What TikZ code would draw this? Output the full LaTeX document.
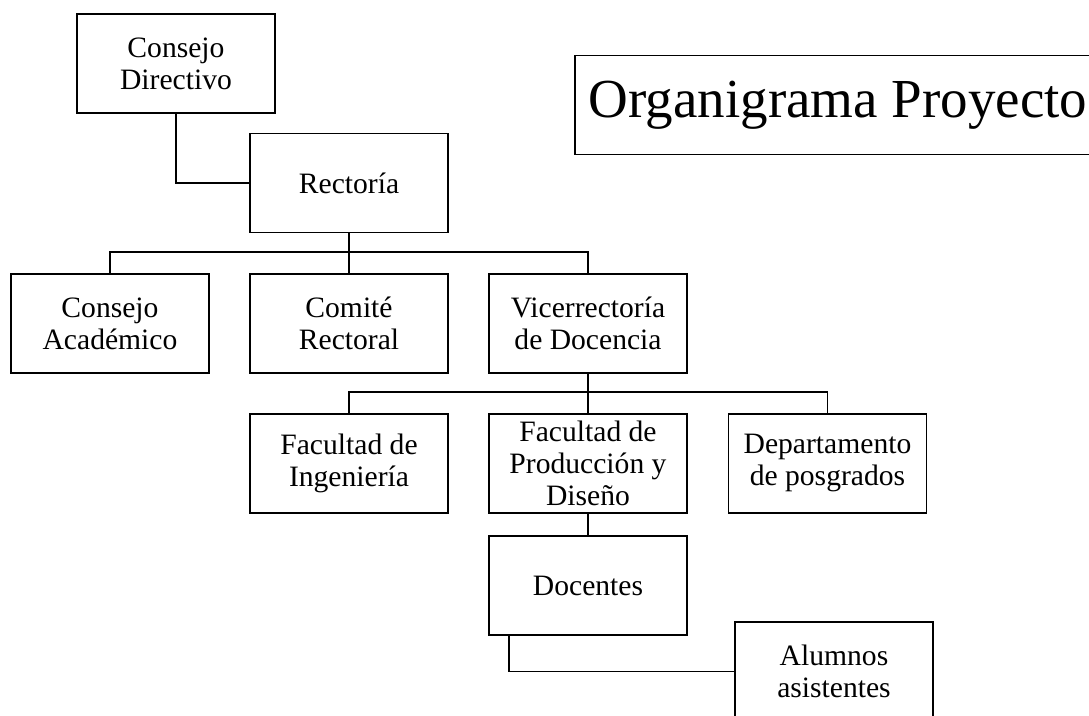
\documentclass[tikz,border=0pt]{standalone}
\usepackage{fontspec}
\setmainfont{Liberation Serif}
\begin{document}
\begin{tikzpicture}[x=1pt,y=1pt]
 \tikzset{unit/.style={draw, line width=1.6pt, minimum width=198pt, minimum height=99pt, inner ysep=1pt, align=center, font=\fontsize{29.6}{32}\selectfont}}
 \tikzset{link/.style={line width=1.6pt}}
  \useasboundingbox (0,0) rectangle (1089,715);
  \clip (0,0) rectangle (1089,715);
  \node[unit] (CD) at (176,651.5) {Consejo\\Directivo};
  \node[unit] (R) at (349,532) {Rector\'ia};
  \node[unit] (CA) at (110,391.5) {Consejo\\Acad\'emico};
  \node[unit] (CR) at (349,391.5) {Comit\'e\\Rectoral};
  \node[unit] (VD) at (588,391.5) {Vicerrector\'ia\\de Docencia};
  \node[unit] (FI) at (349,251.5) {Facultad de\\Ingenier\'ia};
  \node[unit] (FP) at (588,251.5) {Facultad de\\Producci\'on y\\Dise\~no};
  \node[unit] (DP) at (827.5,251.5) {Departamento\\de posgrados};
  \node[unit] (D) at (588,129.5) {Docentes};
  \node[unit] (AA) at (834,43.5) {Alumnos\\asistentes};
  \node[draw, line width=1.6pt, minimum height=99pt, anchor=west, inner xsep=14pt, font=\fontsize{55}{60}\selectfont] (T) at (574,610) {Organigrama Proyecto};
  \draw[link] (CD.south) |- (R.west);
  \draw[link] (R.south) -- (CR.north);
  \draw[link] (CA.north) -- ++(0,21) -| (VD.north);
  \draw[link] (VD.south) -- (FP.north);
  \draw[link] (FI.north) -- ++(0,21) -| (DP.north);
  \draw[link] (FP.south) -- (D.north);
  \draw[link] ([xshift=21pt]D.south west) |- (AA.west);
\end{tikzpicture}
\end{document}
